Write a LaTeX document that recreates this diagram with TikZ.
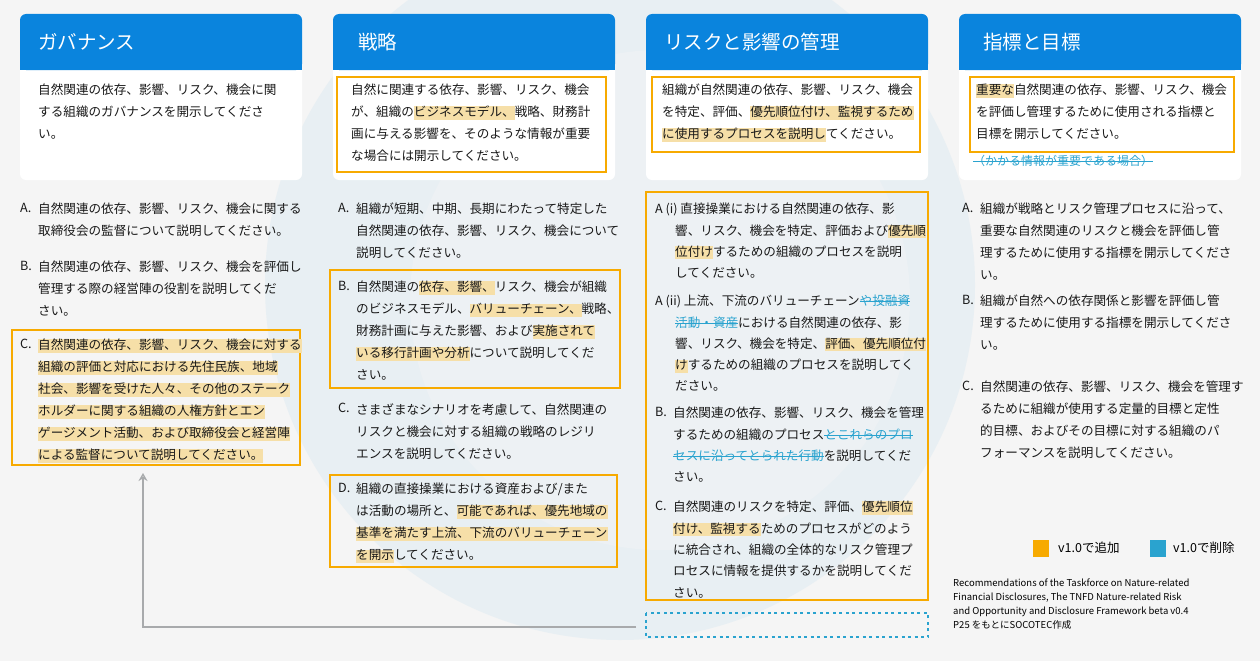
\documentclass[tikz,border=0pt]{standalone}
\usepackage{fontspec}
\setmainfont{Noto Sans CJK JP}
\usetikzlibrary{arrows.meta}
\definecolor{bgc}{HTML}{F5F5F5}
\definecolor{ringc}{HTML}{E8EFF3}
\definecolor{hdr}{HTML}{0A84DD}
\definecolor{orc}{HTML}{F7AA00}
\definecolor{hlc}{HTML}{F6DFA8}
\definecolor{stc}{HTML}{2AA3CF}
\definecolor{arc}{HTML}{A8AAAC}
\newcommand\bodyfont{\fontsize{12.6}{22}\selectfont}
\newcommand\hl[1]{{\fboxsep=0pt\colorbox{hlc}{\rule[-3pt]{0pt}{10pt}#1}}}
\newcommand\strk[1]{{\color{stc}\setbox0\hbox{#1}\rlap{\rule[3.8pt]{\wd0}{0.7pt}}\box0}}
\tikzset{
 body/.style={anchor=north west,inner sep=0pt,align=left,font=\bodyfont,text=black!90},
 tight/.style={body,font=\fontsize{12.6}{21.3}\selectfont},
 lbl/.style={anchor=north west,inner sep=0pt,font=\bodyfont,text=black!90},
 hbox/.style={draw=orc,line width=2.4pt},
 htitle/.style={anchor=west,inner sep=0pt,text=white,font=\fontsize{19.5}{21}\selectfont}
}
\begin{document}
\begin{tikzpicture}[x=1pt,y=-1pt]
\useasboundingbox (0,0) rectangle (1260,661);
\fill[bgc] (0,0) rectangle (1260,661);
\begin{scope}
\clip (0,0) rectangle (1260,661);
\fill[ringc] (620,285) circle (355);
\fill[ringc!60!bgc] (660,300) circle (250);
\end{scope}
% headers
\foreach \x in {20,333,646,959}{
 \fill[white,rounded corners=6] (\x,14) rectangle (\x+282,180);
 \fill[hdr,rounded corners=6] (\x,14) rectangle (\x+282,70);
 \fill[hdr] (\x,40) rectangle (\x+282,70);
}
\node[htitle] (h1) at (38,42) {ガバナンス};
\node[htitle] (h2) at (358,42) {戦略};
\node[htitle] (h3) at (664,42) {リスクと影響の管理};
\node[htitle] (h4) at (983,42) {指標と目標};
% top texts
\node[body] (t1) at (38,84) {自然関連の依存、影響、リスク、機会に関\\する組織のガバナンスを開示してくださ\\い。};
\draw[hbox] (337,77) rectangle (606,172);
\node[body] (t2) at (351,84) {自然に関連する依存、影響、リスク、機会\\が、組織の\hl{ビジネスモデル、}戦略、財務計\\画に与える影響を、そのような情報が重要\\な場合には開示してください。};
\draw[hbox] (652,77) rectangle (920,152);
\node[body] (t3) at (662,84) {組織が自然関連の依存、影響、リスク、機会\\を特定、評価、\hl{優先順位付け、監視するため}\\\hl{に使用するプロセスを説明し}てください。};
\draw[hbox] (970,77) rectangle (1234,152);
\node[body] (t4) at (976,84) {\hl{重要な}自然関連の依存、影響、リスク、機会\\を評価し管理するために使用される指標と\\目標を開示してください。};
\node[body,font=\fontsize{12}{14}\selectfont] (t4s) at (973,155) {\strk{（かかる情報が重要である場合）}};
% column 1
\node[lbl] (l1a) at (20,203) {A.};
\node[body] (c1a) at (38,203) {自然関連の依存、影響、リスク、機会に関する\\取締役会の監督について説明してください。};
\node[lbl] (l1b) at (20,261) {B.};
\node[body] (c1b) at (38,261) {自然関連の依存、影響、リスク、機会を評価し\\管理する際の経営陣の役割を説明してくだ\\さい。};
\draw[hbox] (12,330) rectangle (300,465);
\node[lbl] (l1c) at (20,339) {C.};
\node[body] (c1c) at (38,339) {\hl{自然関連の依存、影響、リスク、機会に対する}\\\hl{組織の評価と対応における先住民族、地域}\\\hl{社会、影響を受けた人々、その他のステーク}\\\hl{ホルダーに関する組織の人権方針とエン}\\\hl{ゲージメント活動、および取締役会と経営陣}\\\hl{による監督について説明してください。}};
% column 2
\node[lbl] (l2a) at (338,203) {A.};
\node[body] (c2a) at (356,203) {組織が短期、中期、長期にわたって特定した\\自然関連の依存、影響、リスク、機会について\\説明してください。};
\draw[hbox] (330,270) rectangle (620,388);
\node[lbl] (l2b) at (338,281) {B.};
\node[body] (c2b) at (356,281) {自然関連の\hl{依存、影響、}リスク、機会が組織\\のビジネスモデル、\hl{バリューチェーン、}戦略、\\財務計画に与えた影響、および\hl{実施されて}\\\hl{いる移行計画や分析}について説明してくだ\\さい。};
\node[lbl] (l2c) at (338,403) {C.};
\node[body] (c2c) at (356,403) {さまざまなシナリオを考慮して、自然関連の\\リスクと機会に対する組織の戦略のレジリ\\エンスを説明してください。};
\draw[hbox] (330,475) rectangle (617,567);
\node[lbl] (l2d) at (338,483) {D.};
\node[body] (c2d) at (356,483) {組織の直接操業における資産および/また\\は活動の場所と、\hl{可能であれば、優先地域の}\\\hl{基準を満たす上流、下流のバリューチェーン}\\\hl{を開示}してください。};
% column 3
\draw[hbox] (646,192) rectangle (928,600);
\node[tight] (c3a) at (655,203) {A (i) 直接操業における自然関連の依存、影\\\hspace*{20pt}響、リスク、機会を特定、評価および\hl{優先順}\\\hspace*{20pt}\hl{位付け}するための組織のプロセスを説明\\\hspace*{20pt}してください。};
\node[tight] (c3b) at (655,295) {A (ii) 上流、下流のバリューチェーン\strk{や投融資}\\\hspace*{20pt}\strk{活動・資産}における自然関連の依存、影\\\hspace*{20pt}響、リスク、機会を特定、\hl{評価、優先順位付}\\\hspace*{20pt}\hl{け}するための組織のプロセスを説明してく\\\hspace*{20pt}ださい。};
\node[lbl] (l3c) at (655,407) {B.};
\node[tight] (c3c) at (673,407) {自然関連の依存、影響、リスク、機会を管理\\するための組織のプロセス\strk{とこれらのプロ}\\\strk{セスに沿ってとられた行動}を説明してくだ\\さい。};
\node[lbl] (l3d) at (655,501) {C.};
\node[tight] (c3d) at (673,501) {自然関連のリスクを特定、評価、\hl{優先順位}\\\hl{付け、監視する}ためのプロセスがどのよう\\に統合され、組織の全体的なリスク管理プ\\ロセスに情報を提供するかを説明してくだ\\さい。};
\draw[stc,line width=2.4pt,dash pattern=on 3pt off 3.5pt] (646,613) rectangle (928,637);
% column 4
\node[lbl] (l4a) at (962,203) {A.};
\node[body] (c4a) at (980,203) {組織が戦略とリスク管理プロセスに沿って、\\重要な自然関連のリスクと機会を評価し管\\理するために使用する指標を開示してくださ\\い。};
\node[lbl] (l4b) at (962,295) {B.};
\node[body] (c4b) at (980,295) {組織が自然への依存関係と影響を評価し管\\理するために使用する指標を開示してくださ\\い。};
\node[lbl] (l4c) at (962,381) {C.};
\node[body] (c4c) at (980,381) {自然関連の依存、影響、リスク、機会を管理す\\るために組織が使用する定量的目標と定性\\的目標、およびその目標に対する組織のパ\\フォーマンスを説明してください。};
% arrow
\coordinate (as) at (636,627);
\coordinate (ae) at (143,473);
\draw[arc,line width=1.3pt,-{Stealth[length=8pt,width=9pt,open]}] (as) -| (ae);
% legend
\fill[orc] (1033,540) rectangle (1049,557);
\node[anchor=west,inner sep=0pt,font=\fontsize{12.5}{14}\selectfont] (lg1) at (1058,548) {v1.0で追加};
\fill[stc] (1150,540) rectangle (1166,557);
\node[anchor=west,inner sep=0pt,font=\fontsize{12.5}{14}\selectfont] (lg2) at (1173,548) {v1.0で削除};
\node[anchor=north west,inner sep=0pt,align=left,font=\fontsize{9.5}{13.8}\selectfont] (src) at (953,579) {Recommendations of the Taskforce on Nature-related\\Financial Disclosures, The TNFD Nature-related Risk\\and Opportunity and Disclosure Framework beta v0.4\\P25 をもとにSOCOTEC作成};
\end{tikzpicture}
\end{document}
